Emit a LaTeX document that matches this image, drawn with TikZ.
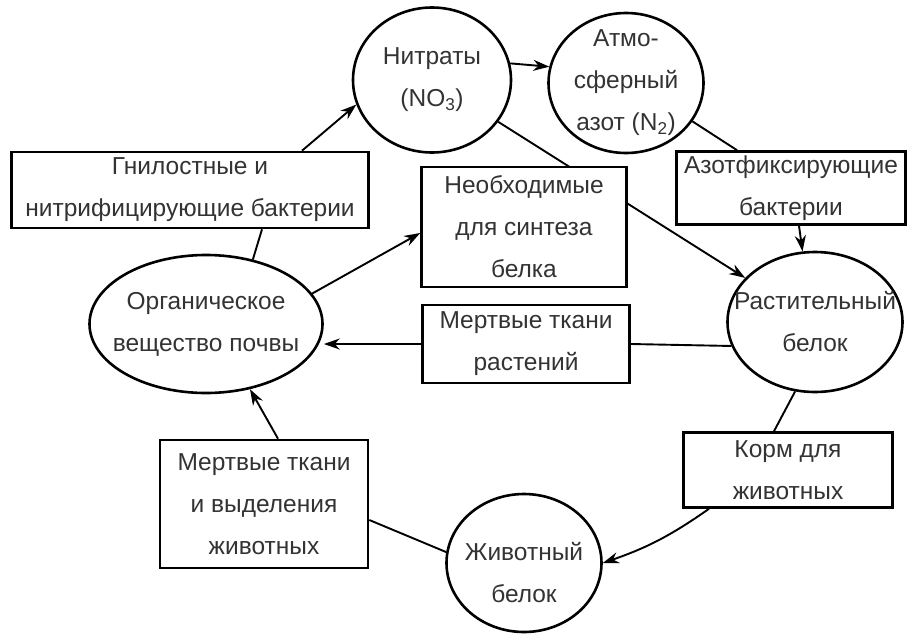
\documentclass[tikz,border=0pt]{standalone}
\usepackage{fontspec}
\setmainfont{Liberation Sans}
\usetikzlibrary{shapes.geometric,arrows.meta}

\begin{document}
\begin{tikzpicture}[x=1pt,y=-1pt,>={Stealth[length=16pt,width=11pt]},
		font=\fontsize{24.5}{42}\selectfont,text=black!80,
		oval/.style={draw,ellipse,line width=2.6pt,inner sep=0pt},
		txt/.style={align=center,inner sep=0pt},
		box/.style={draw,rectangle,line width=2.6pt,fill=white,inner sep=0pt,align=center},
		link/.style={line width=1.9pt}]
			\useasboundingbox (0,0) rectangle (908,635);
			\node[oval,minimum width=158pt,minimum height=145pt,label={[txt]center:Нитраты\\(NO\textsubscript{3})}] (nitr) at (432,80) {};
			\node[oval,minimum width=155pt,minimum height=140pt,label={[txt]center:Атмо-\\сферный\\азот (N\textsubscript{2})}] (atmo) at (626,83) {};
			\node[oval,minimum width=233pt,minimum height=138pt,label={[txt]center:Органическое\\вещество почвы}] (org) at (206,324) {};
			\node[oval,minimum width=175pt,minimum height=140pt,label={[txt]center:Растительный\\белок}] (plant) at (815,322) {};
			\node[oval,minimum width=155pt,minimum height=138pt,label={[txt,yshift=-10pt]center:Животный\\белок}] (anim) at (524,563) {};
			\draw[link,->] (nitr) -- (plant);
			\node[box,minimum width=357pt,minimum height=76pt] (gnil) at (190,190) {Гнилостные и\\нитрифицирующие бактерии};
			\node[box,minimum width=205pt,minimum height=120pt] (need) at (524,227) {Необходимые\\для синтеза\\белка};
			\node[box,minimum width=229pt,minimum height=73pt] (fix) at (791,188) {Азотфиксирующие\\бактерии};
			\node[box,minimum width=207pt,minimum height=78pt] (mplant) at (526,344) {Мертвые ткани\\растений};
			\node[box,minimum width=208pt,minimum height=128pt] (manim) at (264,504) {Мертвые ткани\\и выделения\\животных};
			\node[box,minimum width=209pt,minimum height=75pt] (korm) at (788,470) {Корм для\\животных};
			\draw[link,->] (nitr.12) -- (atmo.168);
			\draw[link,->] ([xshift=112pt]gnil.north) -- (nitr.198);
			\draw[link] (org.54) -- ([xshift=72pt]gnil.south);
			\draw[link,->] (org.16) -- ([yshift=-6pt]need.west);
			\draw[link] (atmo.-30) -- ([xshift=-54pt]fix.north);
			\draw[link,->] ([xshift=8pt]fix.south) -- (plant.100);
			\draw[link] (plant.196) -- (mplant.east);
			\draw[link,->] (mplant.west) -- (mplant.west -| org.east);
			\draw[link] (plant.-106) -- ([xshift=-14pt]korm.north);
			\draw[link,->] ([xshift=-79pt]korm.south) to[bend left=8] (anim.east);
			\draw[link] (anim.172) -- ([yshift=-16pt]manim.east);
			\draw[link,->] ([xshift=14pt]manim.north) -- (org.-56);
		\end{tikzpicture}
\end{document}
